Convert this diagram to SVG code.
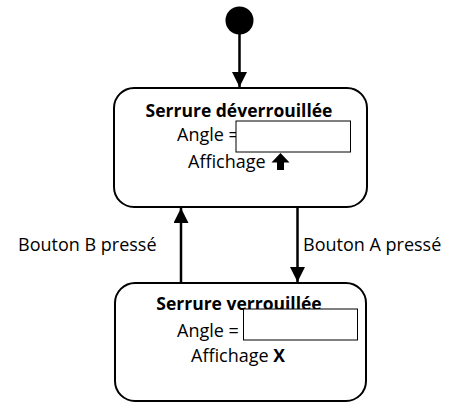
<svg xmlns="http://www.w3.org/2000/svg" width="460" height="403" viewBox="0 0 460 403">
<style>
.state{fill:#fff;stroke:#000;stroke-width:2}
.field{fill:#fff;stroke:#000;stroke-width:1}
.t{font-family:"Open Sans","Liberation Sans",sans-serif;font-size:18px;fill:#000}
.b{font-weight:bold;font-size:17.5px}
.c{stroke:#000;stroke-width:2.5;fill:none}
</style>
<defs>
<marker id="ah" markerWidth="6" markerHeight="6" refX="6" refY="3" orient="auto" markerUnits="strokeWidth">
<path d="M0,0 L6,3 L0,6 Z" fill="#000"/>
</marker>
</defs>
<g id="initial"><circle cx="239.5" cy="20.5" r="14" fill="#000"/></g>
<g id="unlocked">
<rect class="state" x="114" y="88" width="253" height="119" rx="20"/>
<text class="t b" x="239" y="116.5" text-anchor="middle">Serrure déverrouillée</text>
<text class="t" x="177" y="140.5">Angle =</text>
<rect class="field" x="236" y="121" width="114.5" height="31"/>
<text class="t" x="188" y="168">Affichage</text>
<path d="M280.5,153 L289.5,162.5 L284,162.5 L284,170 L277,170 L277,162.5 L271.5,162.5 Z" fill="#000"/>
</g>
<g id="locked">
<rect class="state" x="115" y="283" width="251" height="118" rx="20"/>
<text class="t b" x="239" y="310" text-anchor="middle">Serrure verrouillée</text>
<rect class="field" x="243.5" y="309" width="114" height="31"/>
<text class="t" x="177" y="336.5">Angle =</text>
<text class="t" x="191" y="362">Affichage <tspan class="b">X</tspan></text>
</g>
<g id="connectors">
<line class="c" x1="239.5" y1="34" x2="239.5" y2="87" marker-end="url(#ah)"/>
<line class="c" x1="181" y1="282" x2="181" y2="208" marker-end="url(#ah)"/>
<line class="c" x1="297.5" y1="207" x2="297.5" y2="282" marker-end="url(#ah)"/>
<text class="t" x="18" y="250.5">Bouton B pressé</text>
<text class="t" x="303" y="250.5">Bouton A pressé</text>
</g>
</svg>
